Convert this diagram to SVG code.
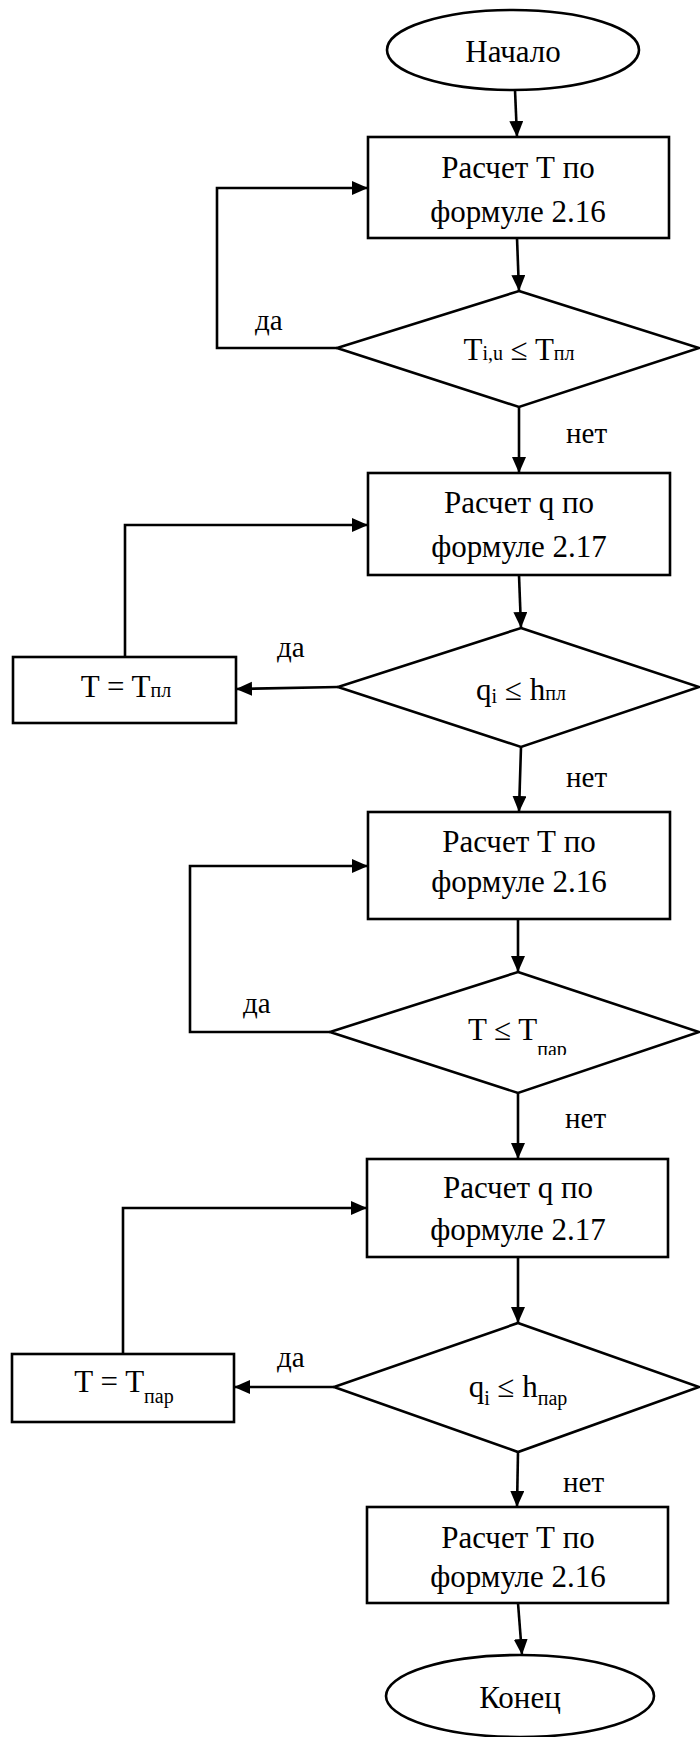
<svg xmlns="http://www.w3.org/2000/svg" width="700" height="1737" viewBox="0 0 700 1737" font-family="'Liberation Serif', 'Times New Roman', Times, serif">
<style>
.s{fill:#fff;stroke:#000;stroke-width:2.6}
.c{fill:none;stroke:#000;stroke-width:2.6}
text{font-family:'Liberation Serif','Times New Roman',Times,serif;font-size:31px;fill:#000}
.m{text-anchor:middle}
.sub{font-size:20px}
.lb{font-size:29px}
</style>
<defs>
<marker id="ah" markerUnits="userSpaceOnUse" markerWidth="18" markerHeight="16" refX="16" refY="7" orient="auto">
<path d="M0,0 L16,7 L0,14 z" fill="#000"/>
</marker>
<clipPath id="clipPar"><rect x="400" y="1000" width="250" height="55"/></clipPath>
</defs>
<rect width="700" height="1737" fill="#fff"/>
<g id="connectors">
<line class="c" x1="515" y1="90" x2="517" y2="137" marker-end="url(#ah)"/>
<line class="c" x1="517" y1="238" x2="519" y2="291" marker-end="url(#ah)"/>
<polyline class="c" points="337,348 217,348 217,188 368,188" marker-end="url(#ah)"/>
<line class="c" x1="519" y1="407" x2="519" y2="473" marker-end="url(#ah)"/>
<line class="c" x1="519" y1="575" x2="521" y2="628" marker-end="url(#ah)"/>
<line class="c" x1="338" y1="687" x2="236" y2="689" marker-end="url(#ah)"/>
<polyline class="c" points="125,657 125,525 368,525" marker-end="url(#ah)"/>
<line class="c" x1="521" y1="747" x2="519" y2="812" marker-end="url(#ah)"/>
<line class="c" x1="518" y1="919" x2="518" y2="972" marker-end="url(#ah)"/>
<polyline class="c" points="330,1032 190,1032 190,866 368,866" marker-end="url(#ah)"/>
<line class="c" x1="518" y1="1093" x2="518" y2="1159" marker-end="url(#ah)"/>
<line class="c" x1="518" y1="1257" x2="518" y2="1323" marker-end="url(#ah)"/>
<line class="c" x1="334" y1="1387" x2="234" y2="1387" marker-end="url(#ah)"/>
<polyline class="c" points="123,1354 123,1208 367,1208" marker-end="url(#ah)"/>
<line class="c" x1="518" y1="1452" x2="517" y2="1507" marker-end="url(#ah)"/>
<line class="c" x1="518" y1="1603" x2="522" y2="1655" marker-end="url(#ah)"/>
<text class="lb" x="255" y="330">да</text>
<text class="lb" x="566" y="443">нет</text>
<text class="lb" x="277" y="657">да</text>
<text class="lb" x="566" y="787">нет</text>
<text class="lb" x="243" y="1013">да</text>
<text class="lb" x="565" y="1128">нет</text>
<text class="lb" x="277" y="1367">да</text>
<text class="lb" x="563" y="1492">нет</text>
</g>
<g id="start">
<ellipse class="s" cx="513" cy="50" rx="126" ry="40"/>
<text class="m" x="513" y="62">Начало</text>
</g>
<g id="calcT1">
<rect class="s" x="368" y="137" width="301" height="101"/>
<text class="m" x="518" y="178">Расчет Т по</text>
<text class="m" x="518" y="222">формуле 2.16</text>
</g>
<g id="cond1">
<polygon class="s" points="519,291 699,348 519,407 337,348"/>
<text class="m" x="519" y="360">T<tspan class="sub">i,u</tspan> ≤ T<tspan class="sub">пл</tspan></text>
</g>
<g id="calcQ1">
<rect class="s" x="368" y="473" width="302" height="102"/>
<text class="m" x="519" y="513">Расчет q по</text>
<text class="m" x="519" y="557">формуле 2.17</text>
</g>
<g id="cond2">
<polygon class="s" points="521,628 699,687 521,747 338,687"/>
<text class="m" x="521" y="700">q<tspan class="sub" dy="3">i</tspan><tspan dy="-3"> ≤ h</tspan><tspan class="sub">пл</tspan></text>
</g>
<g id="setTpl">
<rect class="s" x="13" y="657" width="223" height="66"/>
<text class="m" x="126" y="697">T = T<tspan class="sub">пл</tspan></text>
</g>
<g id="calcT2">
<rect class="s" x="368" y="812" width="302" height="107"/>
<text class="m" x="519" y="852">Расчет Т по</text>
<text class="m" x="519" y="892">формуле 2.16</text>
</g>
<g id="cond3">
<polygon class="s" points="518,972 699,1032 518,1093 330,1032"/>
<text x="468" y="1040" clip-path="url(#clipPar)">T ≤ T<tspan class="sub" dy="16">пар</tspan></text>
</g>
<g id="calcQ2">
<rect class="s" x="367" y="1159" width="301" height="98"/>
<text class="m" x="518" y="1198">Расчет q по</text>
<text class="m" x="518" y="1240">формуле 2.17</text>
</g>
<g id="cond4">
<polygon class="s" points="518,1323 699,1387 518,1452 334,1387"/>
<text class="m" x="518" y="1397">q<tspan class="sub" dy="8">i</tspan><tspan dy="-8"> ≤ h</tspan><tspan class="sub" dy="8">пар</tspan></text>
</g>
<g id="setTpar">
<rect class="s" x="12" y="1354" width="222" height="68"/>
<text class="m" x="124" y="1392">T = T<tspan class="sub" dy="11">пар</tspan></text>
</g>
<g id="calcT3">
<rect class="s" x="367" y="1507" width="301" height="96"/>
<text class="m" x="518" y="1548">Расчет Т по</text>
<text class="m" x="518" y="1587">формуле 2.16</text>
</g>
<g id="end">
<ellipse class="s" cx="520" cy="1696" rx="134" ry="41"/>
<text class="m" x="520" y="1708">Конец</text>
</g>
</svg>
